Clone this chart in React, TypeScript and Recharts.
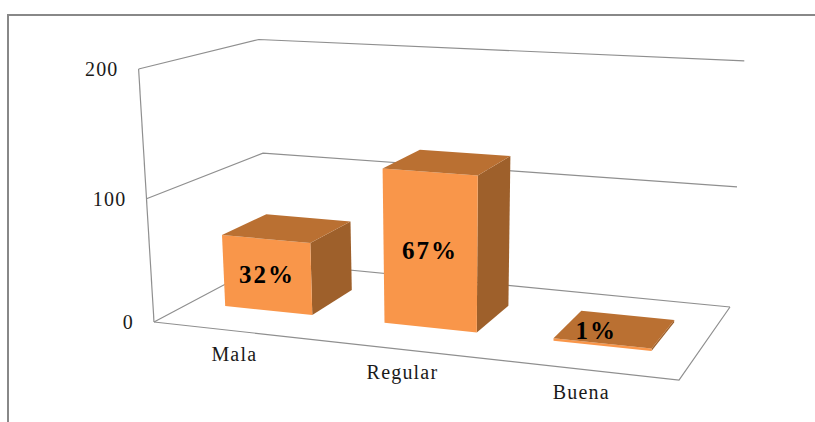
import React from 'react';
import { BarChart, Bar, XAxis, YAxis, CartesianGrid, LabelList } from 'recharts';

const categories = ['Mala', 'Regular', 'Buena'];
const counts = [60, 125, 2];
const yTicks = [0, 100, 200];

const total = counts.reduce((a, b) => a + b, 0);
const data = categories.map((name, i) => ({ name, count: counts[i] }));

const PLOT = { left: 100, top: 50, width: 600, height: 300 };
const PLOT_BOTTOM = PLOT.top + PLOT.height;
const BAR_DEPTH = [0.3, 0.7];

const GRID = '#8f8f8f';
const FRONT = '#f9964a';
const TOP = '#ba7032';
const SIDE = '#9e602b';
const SERIF = '"Liberation Serif", serif';

// floor homography plus a vertical vanishing direction: u runs along the
// categories, w runs back into the chart, h is the value over the axis maximum
const project = (u: number, w: number, h: number) => {
  const W = 1 - 0.08946 * u + 0.14378 * w - 0.0503 * h;
  return {
    x: (464.26 * u + 151.39 * w + 154 - 22.4 * h) / W,
    // the last term lifts the far right of the back wall a little
    y: (24 * u - 22.33 * w + 322 - 256.5 * h) / W - 6 * h * u * w,
  };
};

const toU = (x: number) => (x - PLOT.left) / PLOT.width;
const toH = (y: number) => (PLOT_BOTTOM - y) / PLOT.height;

const points = (list: number[][]) =>
  list
    .map(([u, w, h]) => project(u, w, h))
    .map((p) => `${p.x.toFixed(1)},${p.y.toFixed(1)}`)
    .join(' ');

const WallLine = (props: any) => {
  const h = toH(props.y1);
  const back = points([[0, 0, h], [0, 1, h], [1, 1, h]]);
  return (
    <g key={props.key} fill="none" stroke={GRID} strokeWidth={1.2}>
      <polyline points={back} />
      {h < 0.01 && <polyline points={points([[1, 1, 0], [1, 0, 0], [0, 0, 0]])} />}
      {h > 0.99 && <polyline points={points([[0, 0, 0], [0, 0, 1]])} />}
    </g>
  );
};

const Box = (props: any) => {
  const { x, y, width } = props;
  const u0 = toU(x);
  const u1 = toU(x + width);
  const h = toH(y);
  const [w0, w1] = BAR_DEPTH;
  return (
    <g>
      <polygon fill={SIDE} points={points([[u1, w0, 0], [u1, w1, 0], [u1, w1, h], [u1, w0, h]])} />
      <polygon fill={FRONT} points={points([[u0, w0, 0], [u1, w0, 0], [u1, w0, h], [u0, w0, h]])} />
      <polygon fill={TOP} points={points([[u0, w0, h], [u1, w0, h], [u1, w1, h], [u0, w1, h]])} />
    </g>
  );
};

const PercentLabel = (props: any) => {
  const { x, y, width, value } = props;
  const uc = toU(x + width / 2);
  const h = toH(y);
  // a bar this short shows only its top, so the label sits on that face
  const flat = h < 0.05;
  const p = flat ? project(uc - 0.03, 0.45, h) : project(uc, BAR_DEPTH[0], h / 2);
  return (
    <text
      x={p.x}
      y={p.y + 8}
      textAnchor="middle"
      fontFamily={SERIF}
      fontWeight="bold"
      fontSize={25}
      letterSpacing={2}
      fill="#000"
    >
      {`${Math.round((Number(value) / total) * 100)}%`}
    </text>
  );
};

const ValueTick = (props: any) => {
  const p = project(0, 0, toH(props.y));
  return (
    <text x={p.x - 20} y={p.y + 7} textAnchor="end" fontFamily={SERIF} fontSize={20} letterSpacing={1.2} fill="#1a1a1a">
      {props.payload.value}
    </text>
  );
};

const CategoryTick = (props: any) => {
  const p = project(toU(props.x), 0, 0);
  return (
    <text x={p.x} y={p.y + 30} textAnchor="middle" fontFamily={SERIF} fontSize={20} letterSpacing={1.2} fill="#1a1a1a">
      {props.payload.value}
    </text>
  );
};

export default function App() {
  return (
    <div style={{ position: 'absolute', left: 0, top: 0, width: 815, height: 422, overflow: 'hidden' }}>
      <div
        style={{
          position: 'absolute',
          left: 7,
          top: 14,
          width: 808,
          height: 408,
          borderTop: '2px solid #888',
          borderLeft: '2px solid #888',
        }}
      />
      <div style={{ position: 'absolute', left: 0, top: 0 }}>
        <BarChart
          width={815}
          height={422}
          data={data}
          barSize={110}
          margin={{ left: 0, top: PLOT.top, right: 115, bottom: 22 }}
        >
          <CartesianGrid vertical={false} horizontal={WallLine as any} />
          <XAxis
            dataKey="name"
            height={50}
            padding={{ left: 0, right: 4 }}
            axisLine={false}
            tickLine={false}
            interval={0}
            tick={CategoryTick as any}
          />
          <YAxis width={100} domain={[0, 200]} ticks={yTicks} axisLine={false} tickLine={false} tick={ValueTick as any} />
          <Bar dataKey="count" isAnimationActive={false} shape={Box as any}>
            <LabelList dataKey="count" content={PercentLabel as any} />
          </Bar>
        </BarChart>
      </div>
    </div>
  );
}
